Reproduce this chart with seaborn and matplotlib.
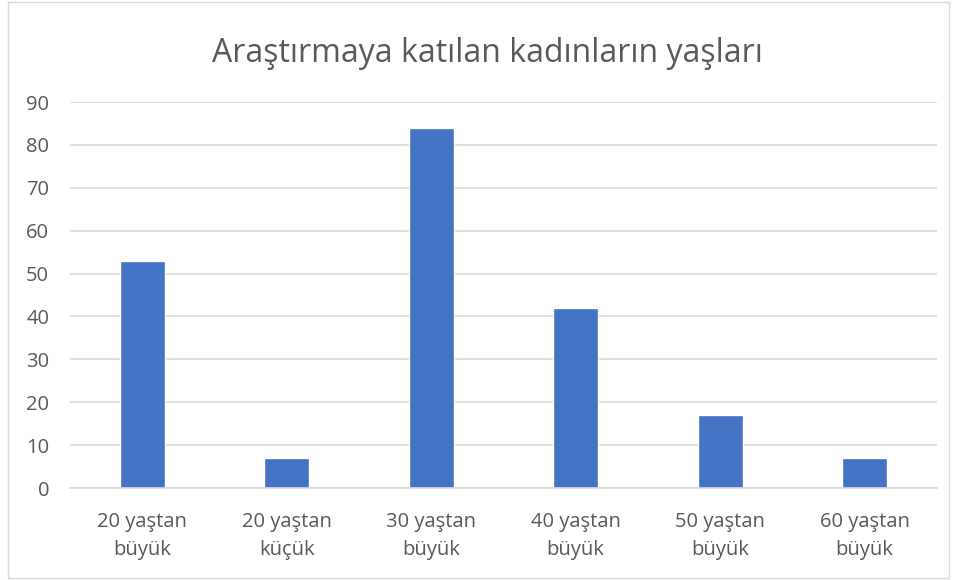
import matplotlib
matplotlib.use("Agg")
import matplotlib.pyplot as plt
import seaborn as sns
import pandas as pd
from matplotlib.patches import Rectangle

# chart data
categories = ["20 yaştan\nbüyük", "20 yaştan\nküçük", "30 yaştan\nbüyük",
              "40 yaştan\nbüyük", "50 yaştan\nbüyük", "60 yaştan\nbüyük"]
counts = [53, 7, 84, 42, 17, 7]
y_ticks = list(range(0, 91, 10))

df = pd.DataFrame({"yas": categories, "sayi": counts})

sns.set_theme(style="white")
plt.rcParams["font.family"] = ["Open Sans", "DejaVu Sans"]

fig = plt.figure(figsize=(9.56, 5.8), dpi=100)
ax = fig.add_axes([0.0732, 0.1586, 0.9068, 0.6655])

sns.barplot(data=df, x="yas", y="sayi", order=categories, color="#4472C4",
            width=0.31, saturation=1, ax=ax)

ax.set_ylim(0, 90)
ax.set_xlim(-0.5, len(categories) - 0.5)
ax.set_yticks(y_ticks)
ax.yaxis.grid(True, color="#D9D9D9", linewidth=1.2)
ax.set_axisbelow(True)
for s in ["top", "right", "left"]:
    ax.spines[s].set_visible(False)
ax.spines["bottom"].set_color("#D9D9D9")
ax.spines["bottom"].set_linewidth(1.2)
ax.tick_params(axis="both", length=0, labelsize=14.5, colors="#595959")
ax.tick_params(axis="x", pad=17)
ax.tick_params(axis="y", pad=15)
for lbl in ax.get_xticklabels():
    lbl.set_linespacing(1.55)
ax.set_xlabel("")
ax.set_ylabel("")

fig.text(0.51, 0.908, "Araştırmaya katılan kadınların yaşları",
         ha="center", va="center", fontsize=23, color="#595959")

# chart border
fig.patches.append(Rectangle((0.008, 0.003), 0.985, 0.994, transform=fig.transFigure,
                             fill=False, edgecolor="#D9D9D9", linewidth=1))

fig.savefig("out.png", dpi=100)
